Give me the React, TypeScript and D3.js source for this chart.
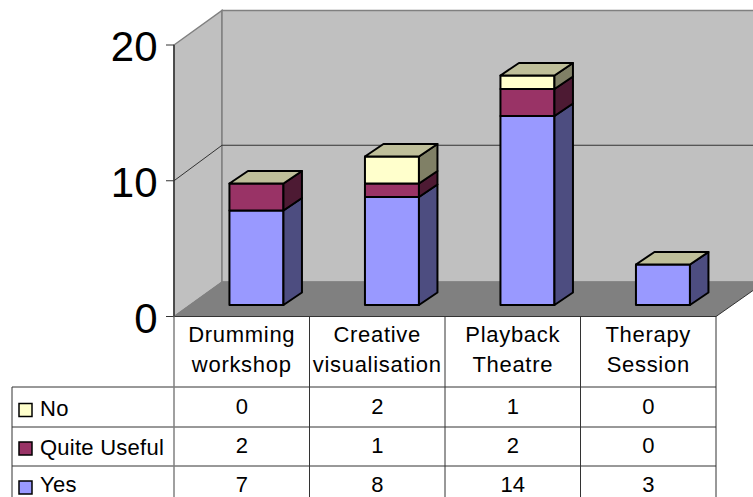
import React from "react";
import * as d3 from "d3";

const categories = ["Drumming workshop", "Creative visualisation", "Playback Theatre", "Therapy Session"];
const categoryLines = [["Drumming", "workshop"], ["Creative", "visualisation"], ["Playback", "Theatre"], ["Therapy", "Session"]];
const yes = [7, 8, 14, 3];
const quiteUseful = [2, 1, 2, 0];
const no = [0, 2, 1, 0];
const yTicks = [0, 10, 20];
const seriesNames = ["No", "Quite Useful", "Yes"];

const W = 753, H = 497;
const FONT = "'Liberation Sans', Arial, sans-serif";
const x0 = 174, x1 = 716, y0 = 316.5, y20 = 45;
const wallDx = 48, wallDy = -34.5;
const barDx = 18.5, barDy = -12.5;
const barInDx = 14.7;

const colors: Record<string, { front: string; side: string; top: string }> = {
  Yes: { front: "#9999ff", side: "#4d4d80", top: "#bfbf9a" },
  "Quite Useful": { front: "#993366", side: "#4d1a33", top: "#bfbf9a" },
  No: { front: "#ffffcc", side: "#808066", top: "#bfbf9a" },
};

const x = d3.scaleBand<string>().domain(categories).range([x0, x1]).padding(0);
const y = d3.scaleLinear().domain([0, 20]).range([y0, y20]);
const barY = d3.scaleLinear().domain([0, 20]).range([305, 35]);
const poly = (pts: [number, number][]) => pts.map((p) => p.join(",")).join(" ");

const seriesRows = [
  { name: "No", values: no },
  { name: "Quite Useful", values: quiteUseful },
  { name: "Yes", values: yes },
];
const rowY = [387, 427, 466, 506];
const labelY = [416, 455, 492];
const valueY = [414, 453, 492];
const swatchY = [403.5, 442, 481];
const stack = d3.stack<any, number>()
  .keys([0, 1, 2])
  .value((_d, k) => [yes, quiteUseful, no][k][_d]);
const stacked = stack(categories.map((_, i) => i) as any);
const stackNames = ["Yes", "Quite Useful", "No"];

export default function App() {
  const barW = 54;
  const bw = x.bandwidth();
  return (
    <svg width={W} height={H} viewBox={`0 0 ${W} ${H}`} style={{ position: "absolute", left: 0, top: 0, background: "#fff" }} fontFamily={FONT}>
      {/* walls */}
      <polygon points={poly([[x0, y20], [x0 + wallDx, y20 + wallDy], [x0 + wallDx, y0 + wallDy], [x0, y0]])} fill="#c0c0c0" stroke="#808080" strokeWidth={1.5} />
      <rect x={x0 + wallDx} y={y20 + wallDy} width={W} height={y0 - y20} fill="#c0c0c0" stroke="#808080" strokeWidth={1.5} />
      {/* floor */}
      <polygon points={poly([[x0, y0], [x0 + wallDx, y0 + wallDy], [W + 20, y0 + wallDy], [x1, y0]])} fill="#808080" stroke="#808080" strokeWidth={1} />
      <polygon points={poly([[x1, y0], [W, y0 - 26], [W, y0], [x1, y0]])} fill="#fff" stroke="none" />
      <line x1={x1} y1={y0} x2={W} y2={y0 - 26} stroke="#333" strokeWidth={1} />
      {/* gridline at 10 */}
      <polyline points={poly([[x0, y(10)], [x0 + wallDx, y(10) + wallDy - 1], [W, y(10) + wallDy - 1]])} fill="none" stroke="#333" strokeWidth={1} />
      {/* axis */}
      <line x1={x0} y1={y20} x2={x0} y2={y0} stroke="#333" strokeWidth={1.5} />
      {yTicks.map((t) => (
        <g key={t}>
          <line x1={x0 - 8} x2={x0} y1={y(t)} y2={y(t)} stroke="#333" strokeWidth={1} />
          <text x={157.5} y={y(t) + 16} fontSize={42} textAnchor="end" fill="#000">{t}</text>
        </g>
      ))}
      {/* bars */}
      {categories.map((c, i) => {
        const bx = (x(c) as number) + (bw - barW) / 2 + barInDx;
        let topSeries = -1;
        stacked.forEach((s: any, k: number) => { if (s[i][1] > s[i][0]) topSeries = k; });
        return (
          <g key={c}>
            {stacked.map((s: any, k: number) => {
              const a = s[i][0], b = s[i][1];
              if (b <= a) return null;
              const c0 = colors[stackNames[k]];
              const yb = barY(a), yt = barY(b);
              return (
                <g key={k} stroke="#000" strokeWidth={2} strokeLinejoin="round">
                  <rect x={bx} y={yt} width={barW} height={yb - yt} fill={c0.front} />
                  <polygon points={poly([[bx + barW, yb], [bx + barW + barDx, yb + barDy], [bx + barW + barDx, yt + barDy], [bx + barW, yt]])} fill={c0.side} />
                  {k === topSeries && (
                    <polygon points={poly([[bx, yt], [bx + barDx, yt + barDy], [bx + barW + barDx, yt + barDy], [bx + barW, yt]])} fill={c0.top} />
                  )}
                </g>
              );
            })}
          </g>
        );
      })}
      {/* table */}
      <g stroke="#333" strokeWidth={1}>
        <line x1={x0} y1={y0} x2={x1} y2={y0} />
        {rowY.map((ry) => (<line key={ry} x1={12} x2={x1} y1={ry} y2={ry} />))}
        <line x1={12} x2={12} y1={rowY[0]} y2={rowY[3]} />
        <line x1={x0} x2={x0} y1={y0} y2={rowY[3]} stroke="#808080" strokeWidth={1.5} />
        {categories.map((c) => {
          const xr = (x(c) as number) + bw;
          return <line key={c} x1={xr} x2={xr} y1={y0} y2={rowY[3]} />;
        })}
      </g>
      {categories.map((c, i) => {
        const cx = (x(c) as number) + bw / 2;
        return (
          <g key={c} fontSize={22} textAnchor="middle" fill="#000" letterSpacing={0.7}>
            <text x={cx} y={342}>{categoryLines[i][0]}</text>
            <text x={cx} y={372}>{categoryLines[i][1]}</text>
          </g>
        );
      })}
      {seriesRows.map((r, ri) => (
        <g key={r.name}>
          <rect x={19} y={swatchY[ri]} width={13} height={13} fill={colors[r.name].front} stroke="#000" strokeWidth={1.5} />
          <text x={40} y={labelY[ri]} fontSize={22} letterSpacing={0.25} fill="#000">{seriesNames[ri]}</text>
          {r.values.map((v, i) => (
            <text key={i} x={(x(categories[i]) as number) + bw / 2} y={valueY[ri]} fontSize={22} textAnchor="middle" fill="#000">{v}</text>
          ))}
        </g>
      ))}
    </svg>
  );
}
